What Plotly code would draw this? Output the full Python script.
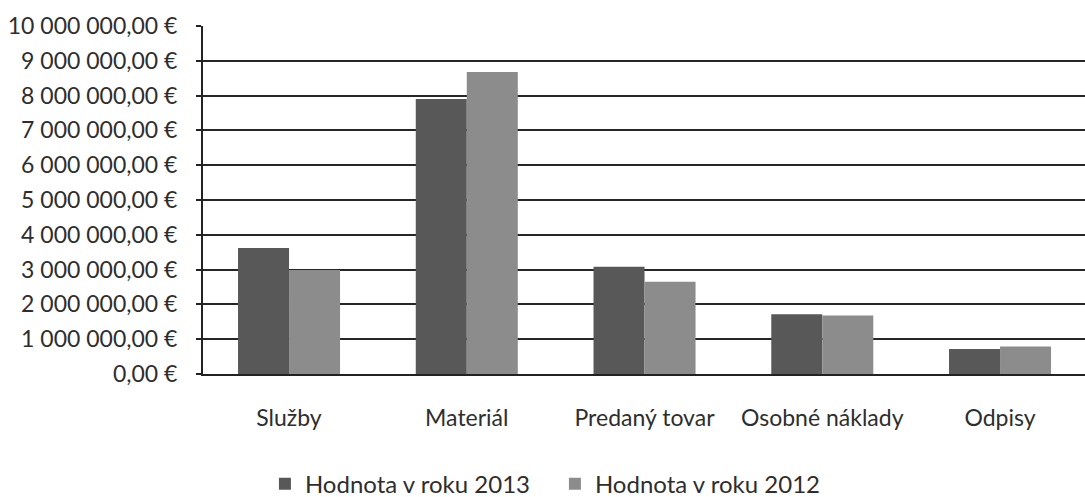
import plotly.graph_objects as go

categories = ["Služby", "Materiál", "Predaný tovar", "Osobné náklady", "Odpisy"]
values_2013 = [3620000, 7900000, 3080000, 1720000, 720000]
values_2012 = [2990000, 8680000, 2650000, 1680000, 790000]
series_names = ["Hodnota v roku 2013", "Hodnota v roku 2012"]
tick_values = [0, 1000000, 2000000, 3000000, 4000000, 5000000, 6000000, 7000000, 8000000, 9000000, 10000000]
tick_labels = ["0,00 €", "1 000 000,00 €", "2 000 000,00 €", "3 000 000,00 €", "4 000 000,00 €",
               "5 000 000,00 €", "6 000 000,00 €", "7 000 000,00 €", "8 000 000,00 €",
               "9 000 000,00 €", "10 000 000,00 €"]

font_family = "Lato, Open Sans, sans-serif"
text_color = "#2e2e2e"

fig = go.Figure()
fig.add_trace(go.Bar(x=categories, y=values_2013, name=series_names[0],
                     marker=dict(color="#585858", line=dict(width=0))))
fig.add_trace(go.Bar(x=categories, y=values_2012, name=series_names[1],
                     marker=dict(color="#8c8c8c", line=dict(width=0))))

fig.update_layout(
    width=1085, height=497,
    margin=dict(l=203, r=0, t=26, b=123),
    paper_bgcolor="white", plot_bgcolor="white",
    barmode="group", bargap=0.426, bargroupgap=0,
    font=dict(family=font_family, size=23, color=text_color),
    showlegend=True,
    legend=dict(orientation="h", x=0.399, xanchor="center",
                yref="container", y=0.026, yanchor="middle",
                font=dict(size=24, color=text_color), itemwidth=30,
                entrywidth=245, traceorder="normal"),
    xaxis=dict(range=[-0.484, 4.478], showgrid=False, showline=True,
               linecolor="#222222", linewidth=2,
               ticks="", tickfont=dict(size=23, color=text_color), ticklabelstandoff=22),
    yaxis=dict(range=[0, 10000000], tickvals=tick_values, ticktext=tick_labels,
               showgrid=True, gridcolor="#262626", gridwidth=1.8,
               showline=True, linecolor="#222222", linewidth=2,
               ticks="outside", ticklen=5, tickcolor="#222222", tickwidth=1.8,
               tickfont=dict(size=23, color=text_color), ticklabelstandoff=14,
               zeroline=False),
)

fig.write_html("out.html", config={"displayModeBar": False},
               post_script="document.body.style.margin='0';document.body.style.padding='0';")
